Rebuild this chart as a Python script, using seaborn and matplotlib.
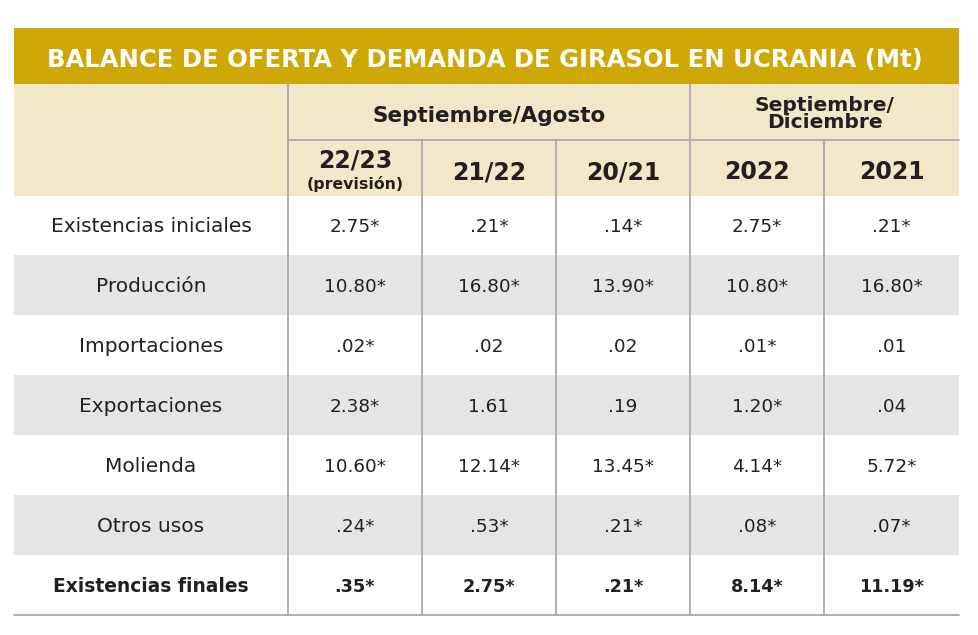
import matplotlib
matplotlib.use("Agg")
import matplotlib.pyplot as plt
import matplotlib.patches as mpatches
import seaborn as sns

# ---- data ----
title = "BALANCE DE OFERTA Y DEMANDA DE GIRASOL EN UCRANIA (Mt)"
group_labels = ["Septiembre/Agosto", "Septiembre/\nDiciembre"]
column_labels = ["22/23", "21/22", "20/21", "2022", "2021"]
column_notes = ["(previsión)", "", "", "", ""]
row_labels = ["Existencias iniciales", "Producción", "Importaciones",
              "Exportaciones", "Molienda", "Otros usos", "Existencias finales"]
col_22_23 = ["2.75*", "10.80*", ".02*", "2.38*", "10.60*", ".24*", ".35*"]
col_21_22 = [".21*", "16.80*", ".02", "1.61", "12.14*", ".53*", "2.75*"]
col_20_21 = [".14*", "13.90*", ".02", ".19", "13.45*", ".21*", ".21*"]
col_2022 = ["2.75*", "10.80*", ".01*", "1.20*", "4.14*", ".08*", "8.14*"]
col_2021 = [".21*", "16.80*", ".01", ".04", "5.72*", ".07*", "11.19*"]
columns = [col_22_23, col_21_22, col_20_21, col_2022, col_2021]

# ---- style ----
sns.set_theme(style="white")
plt.rcParams['font.family'] = ['DejaVu Sans']

GOLD = "#CFA808"
BEIGE = "#F2E7C8"
GREY = "#E5E5E7"
LINE = "#A9A9AB"
TXT = "#231F20"

W, H = 979, 635
fig = plt.figure(figsize=(W / 100, H / 100), dpi=100)
ax = fig.add_axes([0, 0, 1, 1])
ax.set_xlim(0, W)
ax.set_ylim(H, 0)
ax.axis("off")

x_left, x_right = 14, 959
col_edges = [288, 422, 556, 690, 824, 959]
y_title_top, y_title_bot = 28, 84
y_group_bot = 140
y_head_bot = 196
row_h = 60

# title band
ax.add_patch(mpatches.Rectangle((x_left, y_title_top), x_right - x_left,
                                y_title_bot - y_title_top, color=GOLD, lw=0))
ax.add_patch(mpatches.Rectangle((x_left, y_title_bot), x_right - x_left,
                                y_head_bot - y_title_bot, color=BEIGE, lw=0))

for i in range(len(row_labels)):
    if i % 2 == 1:
        y0 = y_head_bot + i * row_h - 1
        ax.add_patch(mpatches.Rectangle((x_left, y0), x_right - x_left, row_h,
                                        color=GREY, lw=0))

y_bottom = y_head_bot + len(row_labels) * row_h - 1

# lines
lw = 1.3
ax.plot([col_edges[0], col_edges[0]], [y_title_bot, y_bottom], color=LINE, lw=lw)
ax.plot([col_edges[3], col_edges[3]], [y_title_bot, y_bottom], color=LINE, lw=lw)
for xe in [col_edges[1], col_edges[2], col_edges[4]]:
    ax.plot([xe, xe], [y_group_bot, y_bottom], color=LINE, lw=lw)
ax.plot([col_edges[0], x_right], [y_group_bot, y_group_bot], color=LINE, lw=lw)
ax.plot([x_left, x_right], [y_bottom, y_bottom], color=LINE, lw=lw)

# title text
ax.text(485, 60, title, color="white", fontsize=17.5, fontweight="bold",
        ha="center", va="center")

# group headers
ax.text((col_edges[0] + col_edges[3]) / 2, 116, group_labels[0], color=TXT,
        fontsize=15.5, fontweight="bold", ha="center", va="center")
ax.text((col_edges[3] + col_edges[5]) / 2, 114, group_labels[1], color=TXT,
        fontsize=14.5, fontweight="bold", ha="center", va="center", linespacing=0.85)

# column headers
for j, lab in enumerate(column_labels):
    cx = (col_edges[j] + col_edges[j + 1]) / 2
    if column_notes[j]:
        ax.text(cx, 161, lab, color=TXT, fontsize=17, fontweight="bold",
                ha="center", va="center")
        ax.text(cx, 184, column_notes[j], color=TXT, fontsize=11.3,
                fontweight="bold", ha="center", va="center")
    else:
        ax.text(cx, 172, lab, color=TXT, fontsize=17, fontweight="bold",
                ha="center", va="center")

# body
for i, lab in enumerate(row_labels):
    cy = y_head_bot + i * row_h + row_h / 2 + 1
    bold = i == len(row_labels) - 1
    ax.text((x_left + col_edges[0]) / 2, cy, lab, color=TXT,
            fontsize=13.4 if bold else 14.5,
            fontweight="bold" if bold else "normal", ha="center", va="center")
    for j, col in enumerate(columns):
        cx = (col_edges[j] + col_edges[j + 1]) / 2
        ax.text(cx, cy, col[i], color=TXT, fontsize=12.7 if bold else 13.2,
                fontweight="bold" if bold else "normal", ha="center", va="center")

fig.savefig("out.png", dpi=100, facecolor="white")
